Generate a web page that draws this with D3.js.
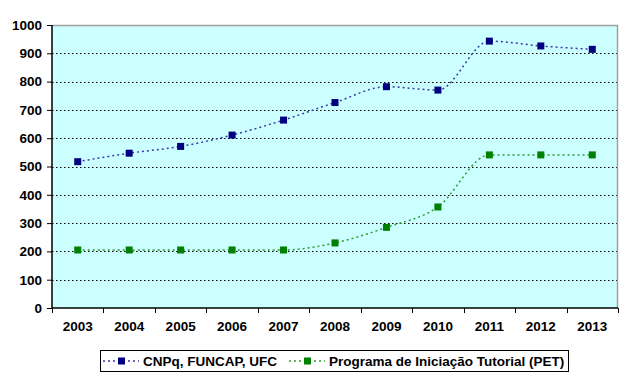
<!DOCTYPE html>
<html><head><meta charset="utf-8">
<script src="https://cdn.jsdelivr.net/npm/d3@7"></script>
<style>html,body{margin:0;padding:0;background:#fff;}</style>
</head><body>
<svg id="c" width="640" height="383"></svg>
<script>
const years = ["2003","2004","2005","2006","2007","2008","2009","2010","2011","2012","2013"];
const cnpq = [517,547,571,611,664,726,782,770,943,926,914];
const pet = [205,205,205,205,205,230,285,357,541,541,541];
const yTicks = [0,100,200,300,400,500,600,700,800,900,1000];
const seriesNames = ["CNPq, FUNCAP, UFC","Programa de Iniciação Tutorial (PET)"];
const colors = ["#000080","#008000"];
const lineColors = ["#3a3aa8","#2f9a2f"];

const svg = d3.select("#c");
const L=52,R=618,T=25,B=308;
const x = d3.scaleBand().domain(years).range([L,R]);
const y = d3.scaleLinear().domain([0,1000]).range([B,T]);
const font = "'Liberation Sans', Arial, sans-serif";
const fs = 13.5;

svg.append("rect").attr("x",L).attr("y",T).attr("width",R-L).attr("height",B-T).attr("fill","#ccffff");
// grid
svg.append("g").selectAll("line").data(yTicks.filter(d=>d>0&&d<1000)).join("line")
  .attr("x1",L).attr("x2",R).attr("y1",d=>Math.round(y(d))+0.5).attr("y2",d=>Math.round(y(d))+0.5)
  .attr("stroke","#000").attr("stroke-width",1).attr("stroke-dasharray","1.5,2.5");
// top/right border
svg.append("path").attr("d",`M${L},${T+0.5}H${R-0.5}V${B}`).attr("fill","none").attr("stroke","#a0a0a0").attr("stroke-width",1.5);

// y axis
const ya = svg.append("g").attr("transform",`translate(${L},0)`)
  .call(d3.axisLeft(y).tickValues(yTicks).tickFormat(d3.format("d")).tickSize(5).tickPadding(5));
ya.select(".domain").attr("stroke","#000").attr("stroke-width",1.5).attr("d",`M0,${T}V${B}`);
ya.selectAll("text").attr("font-family",font).attr("font-size",fs).attr("font-weight","bold").attr("fill","#000");
// x axis
const xa = svg.append("g").attr("transform",`translate(0,${B})`)
  .call(d3.axisBottom(x).tickSize(0).tickPadding(13));
xa.select(".domain").attr("stroke","#000").attr("stroke-width",1.5).attr("d",`M${L},0H${R}`);
xa.selectAll("text").attr("font-family",font).attr("font-size",fs).attr("font-weight","bold").attr("fill","#000");
svg.append("g").selectAll("line").data(years.concat(["end"])).join("line")
  .attr("x1",(d,i)=>Math.round(L+i*x.step())+0.5).attr("x2",(d,i)=>Math.round(L+i*x.step())+0.5)
  .attr("y1",B).attr("y2",B+5).attr("stroke","#000");

const cx = d=>x(d)+x.bandwidth()/2;
const line = d3.line().x((d,i)=>cx(years[i])).y(d=>y(d)).curve(d3.curveMonotoneX);
[cnpq,pet].forEach((s,k)=>{
  svg.append("path").datum(s).attr("d",line).attr("fill","none")
    .attr("stroke",lineColors[k]).attr("stroke-width",1.5).attr("stroke-dasharray","2,3");
  svg.append("g").selectAll("rect").data(s).join("rect")
    .attr("x",(d,i)=>cx(years[i])-3.5).attr("y",d=>y(d)-3.5).attr("width",7).attr("height",7)
    .attr("fill",colors[k]);
});

// legend
const lg = svg.append("g");
lg.append("rect").attr("x",100.5).attr("y",350.5).attr("width",468).attr("height",21)
  .attr("fill","#fff").attr("stroke","#000").attr("stroke-width",1);
const legX=[103,289];
seriesNames.forEach((n,k)=>{
  lg.append("line").attr("x1",legX[k]).attr("x2",legX[k]+36).attr("y1",361).attr("y2",361)
    .attr("stroke",lineColors[k]).attr("stroke-width",1.5).attr("stroke-dasharray","2,3");
  lg.append("rect").attr("x",legX[k]+15).attr("y",357.5).attr("width",7).attr("height",7).attr("fill",colors[k]);
  lg.append("text").attr("x",legX[k]+40).attr("y",366).text(n)
    .attr("font-family",font).attr("font-size",fs).attr("font-weight","bold").attr("fill","#000");
});
</script>
</body></html>
